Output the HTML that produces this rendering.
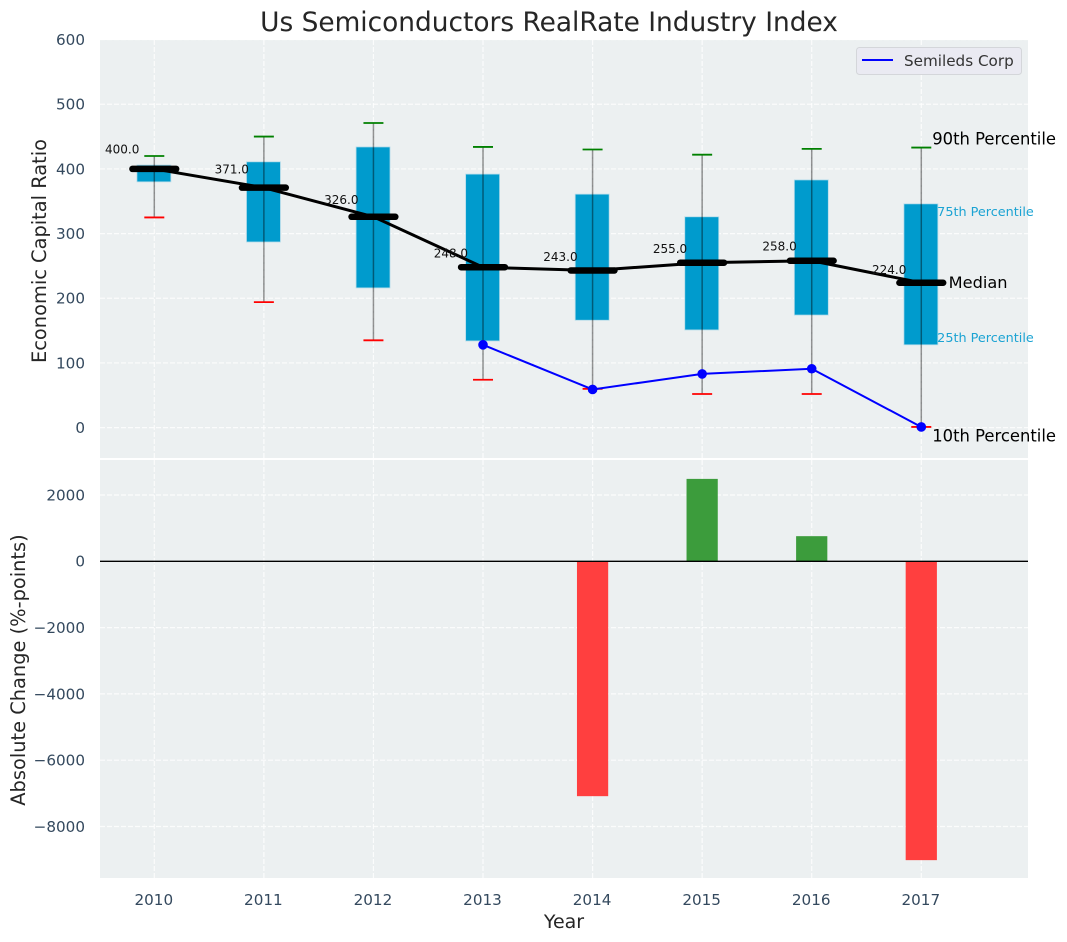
<!DOCTYPE html>
<html lang="en">
<head>
<meta charset="utf-8">
<title>Us Semiconductors RealRate Industry Index</title>
<style>
  html, body { margin: 0; padding: 0; background: #ffffff; }
  svg { display: block; font-family: "DejaVu Sans", "Liberation Sans", sans-serif; }
</style>
</head>
<body>
<svg id="chart" xmlns="http://www.w3.org/2000/svg" width="1067" height="942" viewBox="0 0 1067 942">
  <rect x="100" y="40" width="928" height="418" fill="#ecf0f1"/>
  <rect x="100" y="460" width="928" height="418" fill="#ecf0f1"/>
  <g id="grid"></g>
  <g id="bars"></g>
  <g id="boxes"></g>
  <g id="series"></g>
  <g id="ticks"></g>
  <g id="notes"></g>
  <text x="549" y="31" text-anchor="middle" font-size="26.4" fill="#262626">Us Semiconductors RealRate Industry Index</text>
  <text transform="translate(46 251) rotate(-90)" text-anchor="middle" font-size="19.4" fill="#262626">Economic Capital Ratio</text>
  <text transform="translate(25 670) rotate(-90)" text-anchor="middle" font-size="19.4" fill="#262626">Absolute Change (%-points)</text>
  <text x="564" y="928" text-anchor="middle" font-size="19" fill="#262626">Year</text>
  <g>
    <rect x="856.5" y="47.5" width="165" height="27" rx="3" fill="#eaeaf2" stroke="#d4d6da" stroke-width="1"/>
    <line x1="862" y1="60" x2="893" y2="60" stroke="#0000ff" stroke-width="2"/>
    <text x="904" y="66" font-size="15.2" fill="#333333">Semileds Corp</text>
  </g>
</svg>
<script>
const years = [2010, 2011, 2012, 2013, 2014, 2015, 2016, 2017];
const p90 = [420, 450, 471, 434, 430, 422, 431, 433];
const p75 = [406, 411, 434, 392, 361, 326, 383, 346];
const medians = [400, 371, 326, 248, 243, 255, 258, 224];
const p25 = [380, 287, 216, 134, 166, 151, 174, 128];
const p10 = [325, 194, 135, 74, 60, 52, 52, 1];
const semiledsYears = [2013, 2014, 2015, 2016, 2017];
const semiledsValues = [128, 59, 83, 91, 1];
const changeYears = [2014, 2015, 2016, 2017];
const changeValues = [-7085, 2486, 758, -9015];
const topTicks = [0, 100, 200, 300, 400, 500, 600];
const bottomTicks = [-8000, -6000, -4000, -2000, 0, 2000];

const sx = v => 154.3 + (v - 2010) * 109.57;
const sTop = v => 427.6 - v * 0.6467;
const sBot = v => 561.3 - v * 0.03315;
const NS = 'http://www.w3.org/2000/svg';
const mk = (tag, parent, attrs, text) => {
  const el = document.createElementNS(NS, tag);
  Object.keys(attrs).forEach(k => el.setAttribute(k, attrs[k]));
  if (text !== undefined) el.textContent = text;
  parent.appendChild(el);
  return el;
};
const grid = document.getElementById('grid');
const bars = document.getElementById('bars');
const boxes = document.getElementById('boxes');
const series = document.getElementById('series');
const ticks = document.getElementById('ticks');
const notes = document.getElementById('notes');
const gridStyle = { stroke: '#ffffff', 'stroke-width': 1.2, 'stroke-dasharray': '5 2', opacity: 0.8 };
const tickColor = '#34495e';
const minus = n => String(n).replace('-', '\u2212');

years.forEach(y => {
  const a = mk('line', grid, Object.assign({ x1: sx(y), x2: sx(y), y1: 40, y2: 458 }, gridStyle));
  
  
  const b = mk('line', grid, Object.assign({ x1: sx(y), x2: sx(y), y1: 460, y2: 878 }, gridStyle));
  
  
  const t = mk('text', ticks, { x: sx(y) - 0.5, y: 905, 'text-anchor': 'middle', 'font-size': 15.2, fill: tickColor }, String(y));
  
  
});
topTicks.forEach(v => {
  const g = mk('line', grid, Object.assign({ x1: 100, x2: 1028, y1: sTop(v), y2: sTop(v) }, gridStyle));
  
  
  const t = mk('text', ticks, { x: 85, y: sTop(v) + 5.4, 'text-anchor': 'end', 'font-size': 15.2, fill: tickColor }, minus(v));
  
  
});
bottomTicks.forEach(v => {
  const g = mk('line', grid, Object.assign({ x1: 100, x2: 1028, y1: sBot(v), y2: sBot(v) }, gridStyle));
  
  
  const t = mk('text', ticks, { x: 85, y: sBot(v) + 5.4, 'text-anchor': 'end', 'font-size': 15.2, fill: tickColor }, minus(v));
  
  
});

changeYears.forEach((y, i) => {
  const v = changeValues[i];
  const w = 0.285 * 109.57;
  const r = mk('rect', bars, {
    x: sx(y) - w / 2, width: w,
    y: Math.min(sBot(v), sBot(0)), height: Math.abs(sBot(v) - sBot(0)),
    fill: v < 0 ? '#ff3f3f' : '#3c9c3c'
  });
  
  
});
const zero = mk('line', bars, { x1: 100, x2: 1028, y1: sBot(0), y2: sBot(0), stroke: '#000000', 'stroke-width': 1.3 });



years.forEach((y, i) => {
  const cx = sx(y);
  const w = 0.31 * 109.57;
  const box = mk('rect', boxes, {
    x: cx - 0.4 - w / 2, width: w, y: sTop(p75[i]), height: sTop(p25[i]) - sTop(p75[i]),
    fill: '#009bcd', stroke: '#b5dcea', 'stroke-width': 0.8
  });
  
  
  const whisker = mk('line', boxes, { x1: cx, x2: cx, y1: sTop(p90[i]), y2: sTop(p10[i]), stroke: '#000000', 'stroke-opacity': 0.42, 'stroke-width': 1.5 });
  
  
  const hi = mk('line', boxes, { x1: cx - 10, x2: cx + 10, y1: sTop(p90[i]), y2: sTop(p90[i]), stroke: '#008000', 'stroke-width': 1.8 });
  
  
  const lo = mk('line', boxes, { x1: cx - 10, x2: cx + 10, y1: sTop(p10[i]), y2: sTop(p10[i]), stroke: '#ff0000', 'stroke-width': 1.8 });
  
  
});

const medianLine = mk('polyline', series, {
  points: years.map((y, i) => sx(y) + ',' + sTop(medians[i])).join(' '),
  fill: 'none', stroke: '#000000', 'stroke-width': 3
});



years.forEach((y, i) => {
  const cx = sx(y);
  const m = mk('line', series, { x1: cx - 21.9, x2: cx + 21.9, y1: sTop(medians[i]), y2: sTop(medians[i]), stroke: '#000000', 'stroke-width': 6.5, 'stroke-linecap': 'round' });
  
  
  const t = mk('text', notes, { x: sx(y - 0.45), y: sTop(medians[i] * 1.06), 'font-size': 12, fill: '#111111' }, medians[i].toFixed(1));
  
  
});

const semi = mk('polyline', series, {
  points: semiledsYears.map((y, i) => sx(y) + ',' + sTop(semiledsValues[i])).join(' '),
  fill: 'none', stroke: '#0000ff', 'stroke-width': 2
});


semiledsYears.forEach((y, i) => {
  const c = mk('circle', series, { cx: sx(y), cy: sTop(semiledsValues[i]), r: 4.8, fill: '#0000ff' });
  
  
});

const last = years.length - 1;
const lastYear = years[last];
const n90 = mk('text', notes, { x: sx(lastYear + 0.1), y: sTop(p90[last]) - 3, 'font-size': 16.4, fill: '#000000' }, '90th Percentile');


const n75 = mk('text', notes, { x: sx(lastYear + 0.145), y: sTop(p75[last]) + 12, 'font-size': 12.8, fill: '#1ba3d3' }, '75th Percentile');


const nMed = mk('text', notes, { x: sx(lastYear + 0.25), y: sTop(medians[last]) + 5.5, 'font-size': 16.2, fill: '#000000' }, 'Median');


const n25 = mk('text', notes, { x: sx(lastYear + 0.145), y: sTop(p25[last]) - 3, 'font-size': 12.8, fill: '#1ba3d3' }, '25th Percentile');


const n10 = mk('text', notes, { x: sx(lastYear + 0.1), y: sTop(p10[last]) + 14.5, 'font-size': 16.4, fill: '#000000' }, '10th Percentile');


</script>
</body>
</html>
